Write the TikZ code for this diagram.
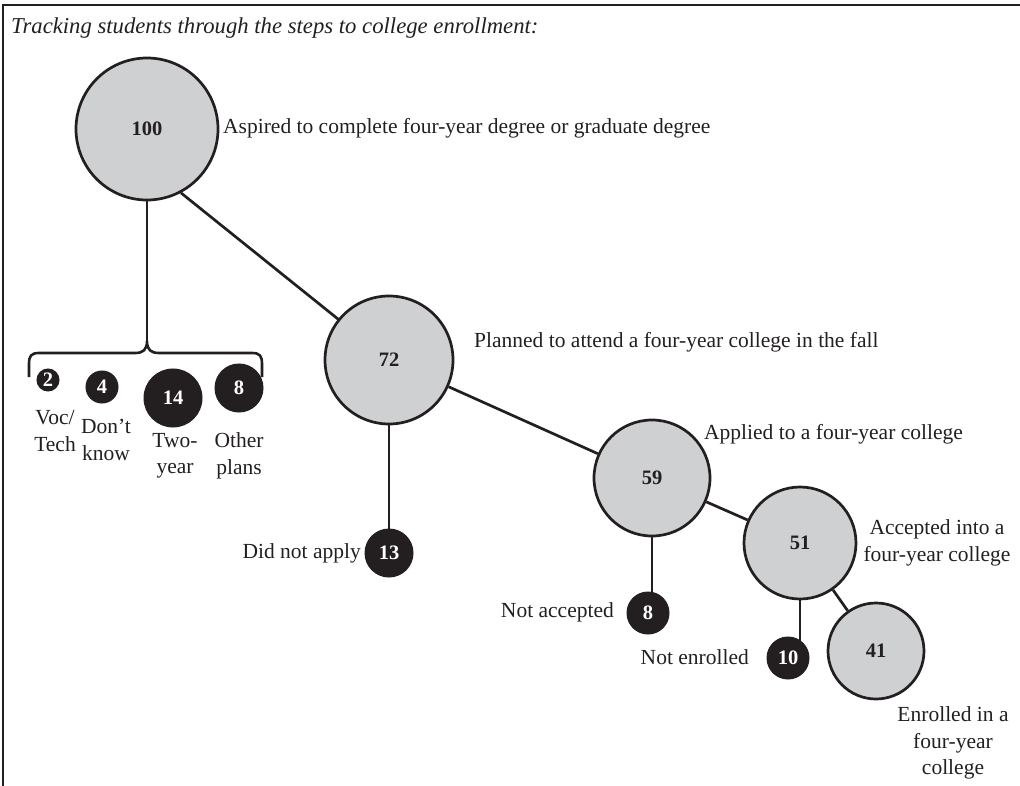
\documentclass[tikz,border=0pt]{standalone}
\usepackage{fontspec}
\setmainfont{Liberation Serif}
\usetikzlibrary{backgrounds}
\definecolor{ink}{RGB}{35,31,32}
\definecolor{bubble}{RGB}{207,208,210}
\tikzset{
  graycirc/.style={circle, draw=ink, line width=2.7pt, fill=bubble, inner sep=0pt,
    minimum size=#1, font=\fontsize{20.5}{24}\selectfont\bfseries, text=ink},
  darkcirc/.style={circle, draw=ink, line width=1pt, fill=ink, inner sep=0pt,
    minimum size=#1, font=\fontsize{20.5}{24}\selectfont\bfseries, text=white},
  lbl/.style={font=\fontsize{21.5}{26.5}\selectfont, text=ink, inner sep=0pt},
  mlbl/.style={lbl, align=center},
  link/.style={draw=ink, line width=2.7pt},
}
\begin{document}
\begin{tikzpicture}[x=1pt,y=-1pt]
\useasboundingbox (0,0) rectangle (1020,786);
% frame
\coordinate (fb) at (3,786);
\coordinate (fc) at (3,5);
\coordinate (fr) at (1020,5);
\draw[ink, line width=2.6pt] (fb) -- (fc) -- (fr);
% title
\node[lbl, anchor=west, font=\fontsize{22.7}{27}\selectfont\itshape] (title) at (11,28)
  {Tracking students through the steps to college enrollment:};
% main circles
\node[graycirc=142pt] (c100) at (147,129) {100};
\node[graycirc=128pt] (c72) at (389,360) {72};
\node[graycirc=116pt] (c59) at (652,478) {59};
\node[graycirc=112pt] (c51) at (800,543) {51};
\node[graycirc=96pt]  (c41) at (876,651) {41};
% dark circles
\node[darkcirc=48pt] (c13) at (389,553) {13};
\node[darkcirc=42pt] (c8b) at (648,613) {8};
\node[darkcirc=42pt] (c10) at (788,658) {10};
\node[darkcirc=22pt] (s2) at (48,380) {2};
\node[darkcirc=32pt] (s4) at (102,387) {4};
\node[darkcirc=58pt] (s14) at (173,398) {14};
\node[darkcirc=48pt] (s8) at (239,388) {8};
% brace
\coordinate (bt) at (147,341);
\draw[ink, line width=2.6pt] (29,377) -- (29,364) .. controls (29,356) and (31,353) .. (39,353)
  -- (135,353) .. controls (143,353) and (147,350) .. (bt)
  .. controls (147,350) and (151,353) .. (159,353) -- (252,353)
  .. controls (260,353) and (262,356) .. (262,364) -- (262,377);
% connectors
\begin{scope}[on background layer]
\draw[link] (bt) -- (bt |- c100.center);
\draw[link] (c100.-62) -- (c72.center);
\draw[link] (c72) -- (c13);
\draw[link] (c72) -- (c59);
\draw[link] (c59) -- (c59 |- c8b);
\draw[link] (c59) -- (c51);
\draw[link] (c51) -- (c51 |- c10);
\draw[link] (c51) -- (c41);
\end{scope}
% labels
\node[lbl, anchor=west] (t100) at (223,128) {Aspired to complete four-year degree or graduate degree};
\node[lbl, anchor=west] (t72) at (474,342) {Planned to attend a four-year college in the fall};
\node[lbl, anchor=west] (t59) at (704,434) {Applied to a four-year college};
\node[mlbl] (t51) at (937,543) {Accepted into a\\four-year college};
\node[mlbl] (t41) at (953,743) {Enrolled in a\\four-year\\college};
\node[lbl, anchor=east] (t13) at (361,553) {Did not apply};
\node[lbl, anchor=east] (t8) at (614,612) {Not accepted};
\node[lbl, anchor=east] (t10) at (749,657) {Not enrolled};
\node[mlbl] (l2) at (55,431) {Voc/\\Tech};
\node[mlbl] (l4) at (106,440) {Don’t\\know};
\node[mlbl] (l14) at (175,456) {Two-\\year};
\node[mlbl] (l8) at (239,456) {Other\\plans};
\end{tikzpicture}
\end{document}
